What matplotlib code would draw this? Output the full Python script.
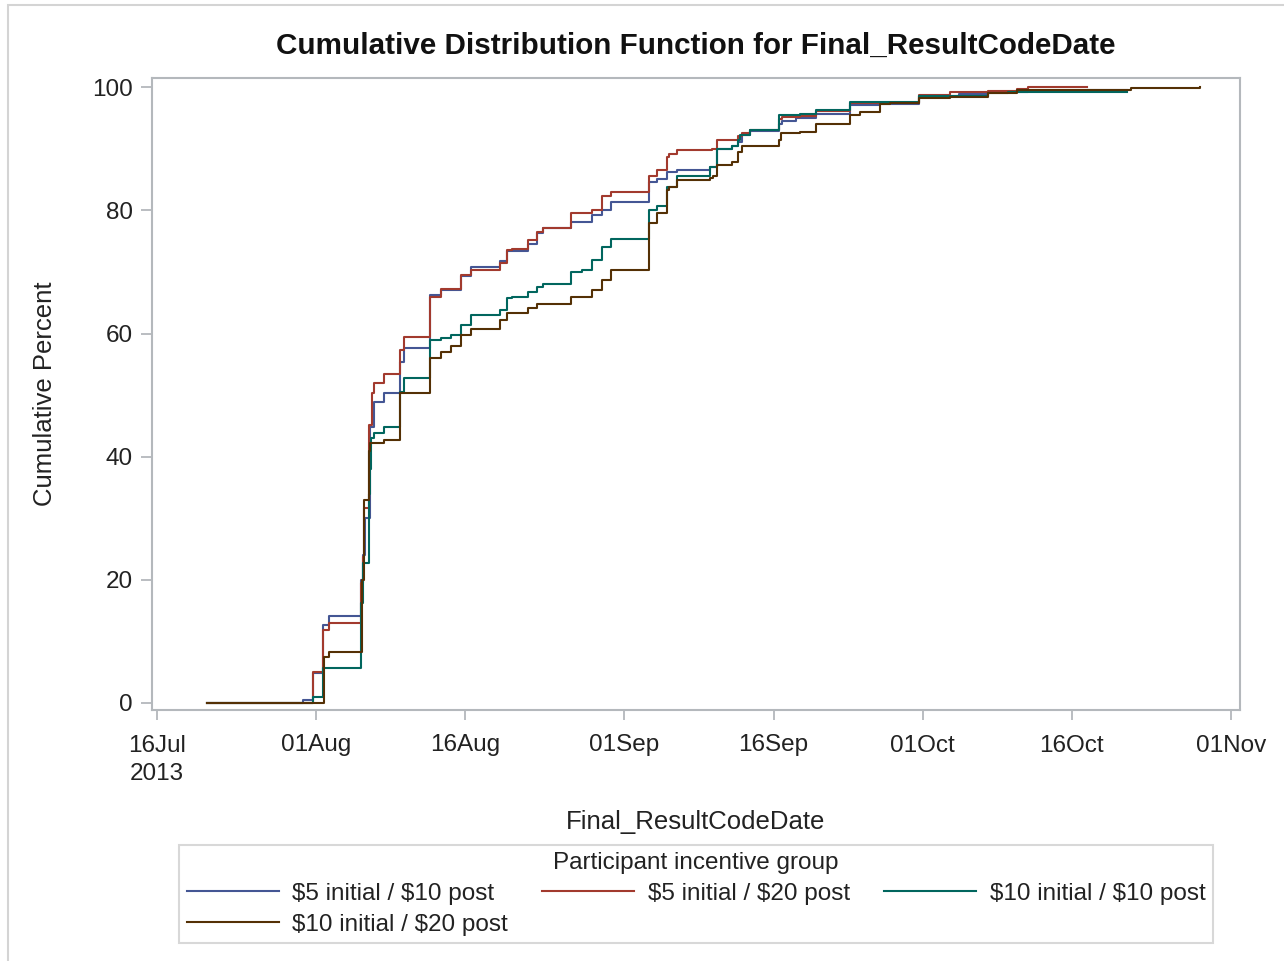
import numpy as np
import matplotlib
matplotlib.use("Agg")
import matplotlib.pyplot as plt
import matplotlib.dates as mdates
from matplotlib.patches import Rectangle

plt.rcParams['font.family'] = ['Liberation Sans', 'DejaVu Sans']

# days since 16Jul2013 and cumulative percent
start = '2013-07-16'

days_5_10 = [5.0, 14.7, 15.7, 16.7, 17.3, 20.5, 20.7, 20.9, 21.4, 21.8, 22.8, 24.4, 24.8, 27.5, 28.6, 30.6,
             31.6, 34.5, 35.2, 37.3, 38.2, 38.8, 41.6, 43.7, 44.7, 45.7, 49.5, 50.3, 51.3, 52.3, 55.6, 56.3,
             57.8, 58.4, 58.8, 59.6, 62.5, 62.8, 64.3, 66.3, 69.7, 72.7, 76.6, 80.6, 83.6, 87.6, 93.5, 97.5]
pct_5_10 = [0, 0.5, 4.8, 12.7, 14.1, 20.0, 24.0, 30.0, 44.9, 48.9, 50.3, 55.3, 57.6, 66.2, 67.0, 69.3,
            70.8, 71.7, 73.4, 74.6, 76.4, 77.1, 78.1, 79.2, 80.0, 81.4, 84.6, 85.1, 86.3, 86.6, 87.1, 90.0,
            90.4, 91.1, 92.3, 92.9, 94.1, 94.5, 95.0, 95.7, 97.1, 97.3, 98.5, 98.9, 99.2, 99.4, 99.5, 99.5]

days_5_20 = [5.0, 15.7, 16.7, 17.3, 20.5, 20.7, 20.8, 21.3, 21.6, 21.8, 22.8, 24.4, 24.8, 27.5, 28.6, 30.6,
             31.6, 34.5, 35.2, 35.7, 37.3, 38.2, 38.8, 41.6, 43.7, 44.7, 45.7, 49.5, 50.3, 51.3, 51.5, 52.3,
             55.8, 56.3, 58.4, 58.8, 59.6, 62.5, 62.8, 64.7, 66.3, 69.7, 76.6, 79.7, 83.6, 86.5, 87.6, 93.5]
pct_5_20 = [0, 5.0, 11.9, 13.0, 19.5, 23.7, 31.6, 45.1, 50.3, 52.0, 53.5, 57.3, 59.4, 66.0, 67.3, 69.5,
            70.3, 71.4, 73.5, 73.8, 75.2, 76.5, 77.1, 79.5, 80.0, 82.4, 83.0, 85.6, 86.6, 88.6, 89.1, 89.8,
            90.0, 91.4, 92.0, 92.6, 93.0, 94.8, 95.1, 95.4, 96.2, 97.4, 98.8, 99.2, 99.4, 99.7, 100, 100]

days_10_10 = [5.0, 15.7, 16.7, 20.5, 20.7, 21.3, 21.4, 21.5, 21.8, 22.8, 24.4, 24.8, 27.5, 28.6, 29.6, 30.6,
              31.6, 34.5, 35.2, 35.7, 37.3, 38.2, 38.8, 41.6, 42.7, 43.7, 44.7, 45.7, 49.5, 50.3, 51.3, 52.3,
              55.6, 56.3, 57.8, 58.4, 58.6, 59.6, 62.5, 64.7, 66.3, 69.7, 76.6, 83.6, 85.6, 97.5]
pct_10_10 = [0, 1.0, 5.6, 16.2, 22.7, 34.0, 38.0, 43.0, 43.8, 44.9, 50.5, 52.7, 58.9, 59.2, 59.7, 61.4,
             63.0, 63.8, 65.7, 65.9, 66.8, 67.6, 68.1, 70.0, 70.3, 71.9, 74.1, 75.4, 80.0, 80.7, 83.8, 85.6,
             87.0, 90.0, 90.5, 91.5, 92.3, 93.0, 95.5, 95.7, 96.3, 97.6, 98.6, 99.1, 99.3, 99.3]

days_10_20 = [5.0, 16.8, 17.3, 20.6, 20.8, 21.3, 21.4, 22.8, 24.4, 27.5, 28.6, 29.6, 30.6, 31.6, 34.5, 35.2,
              35.7, 37.3, 38.2, 41.6, 43.7, 44.7, 45.7, 49.5, 50.3, 51.3, 51.5, 52.3, 55.6, 55.9, 56.3, 57.8,
              58.4, 58.8, 62.5, 62.7, 64.7, 66.3, 69.7, 70.7, 72.7, 73.7, 76.6, 79.7, 83.6, 86.5, 97.9, 104.9]
pct_10_20 = [0, 7.5, 8.2, 20.0, 33.0, 41.0, 42.2, 42.7, 50.3, 56.0, 57.0, 58.0, 59.7, 60.8, 62.2, 63.3,
             63.4, 64.1, 64.8, 66.0, 67.0, 68.7, 70.3, 77.9, 79.5, 83.3, 83.8, 85.0, 85.3, 85.6, 87.3, 87.8,
             89.5, 90.4, 91.4, 92.5, 92.8, 94.1, 95.5, 95.9, 97.2, 97.4, 98.2, 98.4, 99.1, 99.5, 99.8, 100]

groups = [r'\$5 initial / \$10 post', r'\$5 initial / \$20 post',
          r'\$10 initial / \$10 post', r'\$10 initial / \$20 post']
colors = ['#445694', '#A23A2E', '#01665E', '#543005']
series = [(days_5_10, pct_5_10), (days_5_20, pct_5_20), (days_10_10, pct_10_10), (days_10_20, pct_10_20)]

tick_dates = ['2013-07-16', '2013-08-01', '2013-08-16', '2013-09-01', '2013-09-16', '2013-10-01', '2013-10-16', '2013-11-01']
tick_labels = ['16Jul\n2013', '01Aug', '16Aug', '01Sep', '16Sep', '01Oct', '16Oct', '01Nov']

base = mdates.date2num(np.datetime64(start))
grey = '#b4b8bc'
txt = '#222222'

fig = plt.figure(figsize=(12.84, 9.61), dpi=100)
ax = fig.add_axes([152 / 1284, 1 - 709.5 / 961, (1240 - 152) / 1284, (709.5 - 78) / 961])

lines = []
for (d, p), c, g in zip(series, colors, groups):
    ln, = ax.step(base + np.array(d), p, where='post', color=c, lw=1.5, label=g)
    lines.append(ln)

ax.set_xlim(base - 0.5, base + 108.9)
ax.set_ylim(-1.06, 101.5)
ax.set_xticks([mdates.date2num(np.datetime64(t)) for t in tick_dates])
ax.set_xticklabels(tick_labels, linespacing=1.4)
ax.set_yticks([0, 20, 40, 60, 80, 100])

for s in ax.spines.values():
    s.set_color(grey)
    s.set_linewidth(1.5)
ax.tick_params(axis='both', colors=grey, labelcolor=txt, labelsize=17.5, width=1.3)
ax.tick_params(axis='x', length=7, pad=11)
ax.tick_params(axis='y', length=8, pad=6)

ax.set_xlabel('Final_ResultCodeDate', fontsize=18.5, color=txt, labelpad=18)
ax.set_ylabel('Cumulative Percent', fontsize=18.5, color=txt, labelpad=25)
fig.text(0.5415, 1 - 46 / 961, 'Cumulative Distribution Function for Final_ResultCodeDate',
         ha='center', va='center', fontsize=21.3, fontweight='bold', color='#111111')

# row-major order for 3 columns
order = [0, 3, 1, 2]
leg = fig.legend([lines[i] for i in order], [groups[i] for i in order], ncol=3,
                 title='Participant incentive group', loc='center',
                 bbox_to_anchor=(696 / 1284, 1 - 894 / 961), fontsize=17.5, title_fontsize=17.5,
                 handlelength=3.8, handletextpad=0.55, columnspacing=1.4, labelspacing=0.35,
                 borderpad=0.3, fancybox=False, frameon=True)
leg.get_frame().set_edgecolor('#cfcfcf')
leg.get_frame().set_linewidth(1.5)
leg.get_title().set_color(txt)
for t in leg.get_texts():
    t.set_color(txt)

fig.patches.append(Rectangle((8 / 1284, -0.1), 1.2, 1.1 - 5.5 / 961, transform=fig.transFigure,
                             fill=False, edgecolor='#d4d4d4', lw=1.5))

fig.savefig('out.png', dpi=100)
